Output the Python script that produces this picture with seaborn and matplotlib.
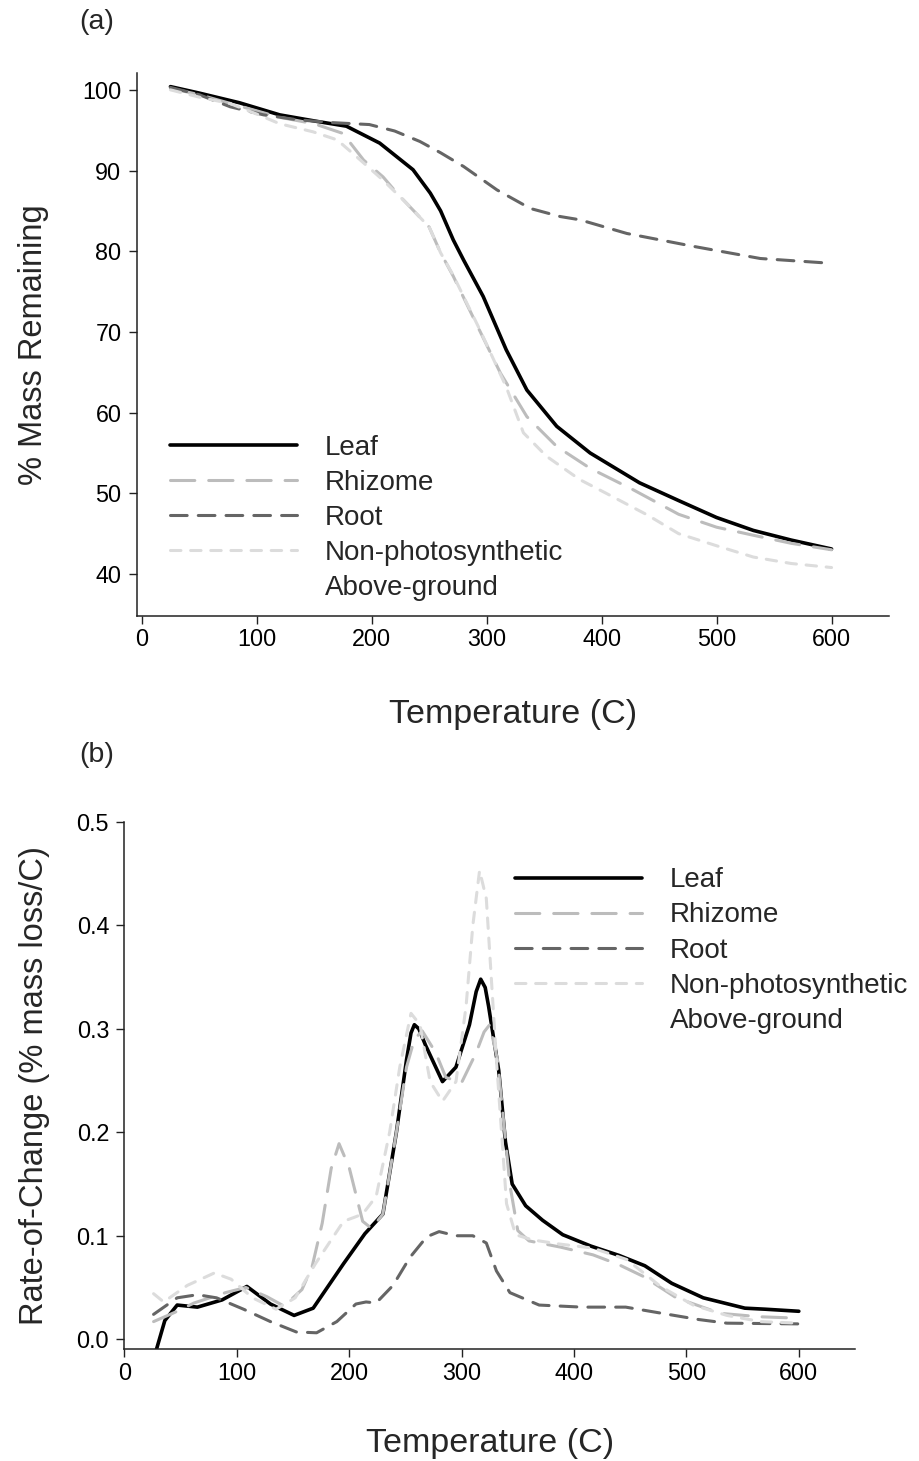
import numpy as np
import pandas as pd
import matplotlib
matplotlib.use("Agg")
import matplotlib.pyplot as plt
from matplotlib.lines import Line2D
import seaborn as sns

# ---------------- data: panel (a) % mass remaining ----------------
leaf_T = [25, 50, 85, 120, 152, 178, 207, 236, 251, 260, 271, 280, 297, 317, 335, 361, 390, 433, 467, 500, 532, 565, 600]
leaf_mass = [100.4, 99.6, 98.4, 96.9, 96.1, 95.5, 93.4, 90.1, 87.2, 85.0, 81.4, 78.9, 74.4, 67.8, 62.8, 58.3, 55.0, 51.3, 49.1, 47.0, 45.4, 44.2, 43.1]

rhiz_T = [25, 50, 85, 120, 150, 175, 193, 210, 222, 240, 250, 260, 271, 288, 312, 335, 361, 390, 428, 467, 500, 532, 565, 600]
rhiz_mass = [100.2, 99.4, 98.0, 96.6, 95.8, 94.6, 91.3, 89.2, 87.2, 84.5, 83.0, 79.8, 76.9, 71.9, 64.9, 59.5, 55.8, 53.1, 50.4, 47.4, 45.8, 44.8, 43.8, 43.0]

root_T = [25, 50, 77, 106, 135, 164, 198, 220, 242, 260, 280, 309, 338, 364, 381, 422, 480, 538, 600]
root_mass = [100.3, 99.4, 97.9, 96.9, 96.3, 95.95, 95.7, 94.9, 93.6, 92.2, 90.5, 87.6, 85.3, 84.3, 83.9, 82.2, 80.6, 79.1, 78.5]

npag_T = [25, 50, 77, 100, 120, 149, 170, 187, 210, 230, 250, 260, 271, 294, 317, 332, 352, 381, 404, 440, 467, 500, 532, 565, 600]
npag_mass = [100.0, 99.1, 98.3, 97.0, 95.8, 94.8, 93.8, 91.7, 88.8, 86.0, 83.0, 79.8, 77.0, 70.3, 63.2, 57.5, 54.6, 51.7, 50.0, 47.3, 45.0, 43.5, 42.1, 41.3, 40.8]

# ---------------- data: panel (b) rate of change ----------------
leaf_rT = [28, 36, 47, 65, 87, 109, 130, 151, 168, 195, 214, 230, 242, 251, 255, 258, 262, 268, 283, 295, 307, 313, 317, 321, 324, 333, 339, 345, 357, 372, 390, 415, 440, 463, 487, 515, 552, 570, 600]
leaf_rate = [-0.012, 0.018, 0.033, 0.031, 0.038, 0.051, 0.034, 0.023, 0.030, 0.073, 0.102, 0.121, 0.200, 0.270, 0.296, 0.304, 0.300, 0.284, 0.249, 0.263, 0.304, 0.336, 0.348, 0.340, 0.322, 0.260, 0.191, 0.150, 0.129, 0.115, 0.101, 0.090, 0.081, 0.071, 0.054, 0.040, 0.030, 0.029, 0.027]

rhiz_rT = [26, 45, 62, 90, 108, 127, 142, 158, 167, 176, 184, 191, 200, 212, 220, 230, 242, 251, 258, 265, 277, 286, 300, 313, 320, 325, 332, 343, 350, 360, 388, 417, 440, 462, 491, 530, 565, 600]
rhiz_rate = [0.017, 0.026, 0.035, 0.045, 0.050, 0.041, 0.032, 0.048, 0.070, 0.112, 0.165, 0.189, 0.166, 0.114, 0.107, 0.121, 0.200, 0.263, 0.290, 0.298, 0.277, 0.253, 0.248, 0.277, 0.297, 0.304, 0.270, 0.149, 0.105, 0.095, 0.089, 0.0815, 0.072, 0.0605, 0.040, 0.025, 0.0217, 0.0203]

root_rT = [26, 47, 65, 82, 106, 130, 153, 171, 189, 206, 215, 224, 239, 254, 269, 280, 295, 310, 322, 331, 343, 369, 407, 446, 481, 511, 536, 600]
root_rate = [0.024, 0.040, 0.043, 0.040, 0.029, 0.017, 0.007, 0.0062, 0.017, 0.034, 0.036, 0.035, 0.052, 0.079, 0.099, 0.104, 0.100, 0.100, 0.093, 0.066, 0.045, 0.033, 0.031, 0.031, 0.0245, 0.019, 0.0155, 0.0148]

npag_rT = [26, 35, 56, 80, 95, 114, 135, 152, 170, 195, 205, 212, 224, 236, 245, 255, 263, 272, 283, 295, 304, 310, 316, 322, 331, 340, 348, 363, 387, 417, 447, 477, 506, 536, 566, 600]
npag_rate = [0.044, 0.036, 0.052, 0.064, 0.058, 0.040, 0.029, 0.040, 0.073, 0.114, 0.118, 0.121, 0.138, 0.200, 0.263, 0.315, 0.304, 0.249, 0.230, 0.249, 0.322, 0.400, 0.453, 0.426, 0.270, 0.131, 0.101, 0.096, 0.092, 0.088, 0.077, 0.051, 0.033, 0.023, 0.017, 0.0155]

series_names = ["Leaf", "Rhizome", "Root", "Non-photosynthetic"]
legend_extra = "Above-ground"
x_ticks = [0, 100, 200, 300, 400, 500, 600]
mass_ticks = [40, 50, 60, 70, 80, 90, 100]
rate_ticks = [0.0, 0.1, 0.2, 0.3, 0.4, 0.5]
rate_ticklabels = ["0.0", "0.1", "0.2", "0.3", "0.4", "0.5"]

# ---------------- styles ----------------
sns.set_theme(style="ticks")
plt.rcParams["font.family"] = ["Liberation Sans", "DejaVu Sans"]
plt.rcParams["lines.scale_dashes"] = False

styles = {
    "Leaf": dict(color="#000000", lw=2.6, dashes=None),
    "Rhizome": dict(color="#bcbcbc", lw=2.2, dashes=(17.5, 10.0)),
    "Root": dict(color="#656565", lw=2.2, dashes=(12.0, 8.0)),
    "Non-photosynthetic": dict(color="#dcdcdc", lw=2.2, dashes=(7.5, 7.0)),
}

fig = plt.figure(figsize=(9.19, 14.61), dpi=100)
ax1 = fig.add_axes([0.1488, 0.5784, 0.8186, 0.3717])
ax2 = fig.add_axes([0.1353, 0.0765, 0.7951, 0.3609])

def draw(ax, name, T, v):
    st = styles[name]
    sns.lineplot(x=T, y=v, ax=ax, color=st["color"], lw=st["lw"], sort=False,
                 estimator=None, legend=False)
    ln = ax.lines[-1]
    ln.set_solid_joinstyle("round")
    ln.set_solid_capstyle("round")
    if st["dashes"] is not None:
        ln.set_dashes(st["dashes"])
        ln.set_dash_capstyle("round")
        ln.set_dash_joinstyle("round")

panel_a = {"Leaf": (leaf_T, leaf_mass), "Rhizome": (rhiz_T, rhiz_mass),
           "Root": (root_T, root_mass), "Non-photosynthetic": (npag_T, npag_mass)}
panel_b = {"Leaf": (leaf_rT, leaf_rate), "Rhizome": (rhiz_rT, rhiz_rate),
           "Root": (root_rT, root_rate), "Non-photosynthetic": (npag_rT, npag_rate)}

for name in series_names:
    draw(ax1, name, *panel_a[name])
    draw(ax2, name, *panel_b[name])

def legend_handles():
    hs = []
    for name in series_names:
        st = styles[name]
        h = Line2D([0], [0], color=st["color"], lw=st["lw"])
        if st["dashes"] is not None:
            h.set_dashes(st["dashes"])
            h.set_dash_capstyle("round")
        hs.append(h)
    hs.append(Line2D([0], [0], color="none", lw=0))
    return hs, series_names + [legend_extra]

LEG_FS = 20
for ax, anchor in [(ax1, (0.0443, 0.334)), (ax2, (0.5347, 0.9140))]:
    hs, labs = legend_handles()
    ax.legend(hs, labs, loc="upper left", bbox_to_anchor=anchor, frameon=False,
              fontsize=LEG_FS, handlelength=4.57, handletextpad=1.0, labelspacing=0.33,
              borderpad=0, borderaxespad=0)

ax1.set_xlim(-4.3, 650)
ax1.set_ylim(34.8, 102.1)
ax2.set_xlim(0, 650)
ax2.set_ylim(-0.0097, 0.5)

ax1.set_xticks(x_ticks)
ax1.set_yticks(mass_ticks)
ax2.set_xticks(x_ticks)
ax2.set_yticks(rate_ticks)
ax2.set_yticklabels(rate_ticklabels)

for ax in (ax1, ax2):
    sns.despine(ax=ax)
    for s in ("left", "bottom"):
        ax.spines[s].set_linewidth(1.1)
        ax.spines[s].set_color("#222222")
    ax.tick_params(direction="out", length=6, width=1.0, color="#222222",
                   labelsize=16.8, labelcolor="black")
    ax.tick_params(axis="x", pad=3)
    ax.tick_params(axis="y", pad=5)

ax1.set_xlabel("Temperature (C)", fontsize=24.5, labelpad=34)
ax1.set_ylabel("% Mass Remaining", fontsize=23.5, labelpad=24)
ax2.set_xlabel("Temperature (C)", fontsize=24.5, labelpad=31)
ax2.set_ylabel("Rate-of-Change (% mass loss/C)", fontsize=23.5, labelpad=19)

fig.text(97 / 919, 1 - 22 / 1461, "(a)", ha="center", va="center", fontsize=20.5)
fig.text(97 / 919, 1 - 755 / 1461, "(b)", ha="center", va="center", fontsize=20.5)

fig.savefig("out.png", dpi=100)
